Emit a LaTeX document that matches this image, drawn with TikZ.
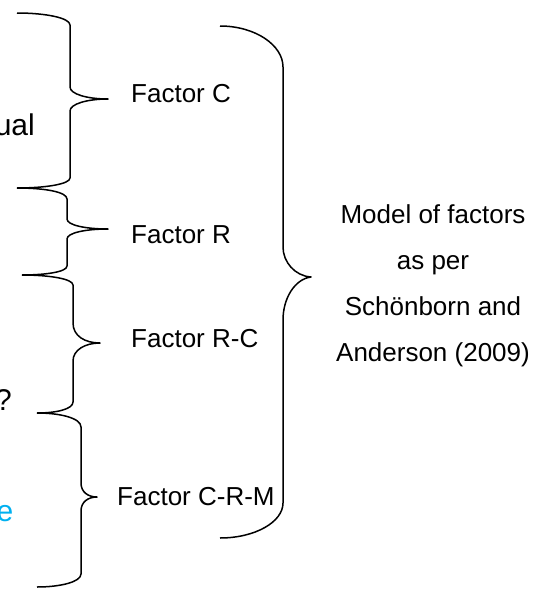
\documentclass[tikz,border=0pt]{standalone}
\usepackage{fontspec}
\setmainfont{Liberation Sans}
\definecolor{linkblue}{HTML}{00B0F0}
\begin{document}
\begin{tikzpicture}[x=1pt,y=-1pt,
  brace/.style={draw=black,line width=1.5pt,line join=round},
  factor/.style={inner sep=0pt,anchor=base west,font=\fontsize{26}{31}\selectfont},
  lefttext/.style={inner sep=0pt,anchor=base east,font=\fontsize{30}{36}\selectfont}]
\useasboundingbox (0,0) rectangle (543,589);

% partly visible words at the left margin
\node[lefttext] (ual) at (35,135) {ual};
\node[lefttext] (qmark) at (12,410) {?};
\node[lefttext,text=linkblue] (eword) at (13.5,521) {e};

% four small braces, each pointing at one factor
\path[brace] (17,13) .. controls (46,13) and (70,18) .. (70,25) -- (70,87)
  .. controls (70,94) and (87,99) .. (108,99)
  .. controls (87,99) and (70,104) .. (70,111) -- (70,178)
  .. controls (70,184) and (46,188) .. (17,188);
\path[brace] (17,188) .. controls (45,188) and (67,192) .. (67,199) -- (67,219)
  .. controls (67,225) and (85,229) .. (108,229)
  .. controls (85,229) and (67,233) .. (67,239) -- (67,266)
  .. controls (67,272) and (45,275) .. (22,275);
\path[brace] (22,275) .. controls (50,275) and (73,279) .. (73,285) -- (73,323)
  .. controls (73,336) and (85,343) .. (100,343)
  .. controls (85,343) and (73,350) .. (73,361) -- (73,402)
  .. controls (73,409) and (57,413) .. (37,413);
\path[brace] (37,413) .. controls (60,413) and (81,418) .. (81,427) -- (81,483)
  .. controls (81,492) and (88,497) .. (97,497)
  .. controls (88,497) and (81,502) .. (81,511) -- (81,574)
  .. controls (81,582) and (60,587) .. (37,587);

% factor labels
\node[factor] (fc) at (131,102) {Factor C};
\node[factor] (fr) at (131,243) {Factor R};
\node[factor] (frc) at (131,347) {Factor R-C};
\node[factor] (fcrm) at (117,505) {Factor C-R-M};

% large brace grouping all factors
\path[brace] (220,26) .. controls (255,26) and (283,45) .. (283,67) -- (283,247)
  .. controls (283,262) and (295,276) .. (311,277)
  .. controls (295,279) and (283,298) .. (283,320) -- (283,503)
  .. controls (283,522) and (255,538) .. (220,538);

\node[inner sep=0pt,anchor=north,align=center,font=\fontsize{26}{46}\selectfont]
  (model) at (433,204) {Model of factors\\as per\\Schönborn and\\Anderson (2009)};
\end{tikzpicture}
\end{document}
